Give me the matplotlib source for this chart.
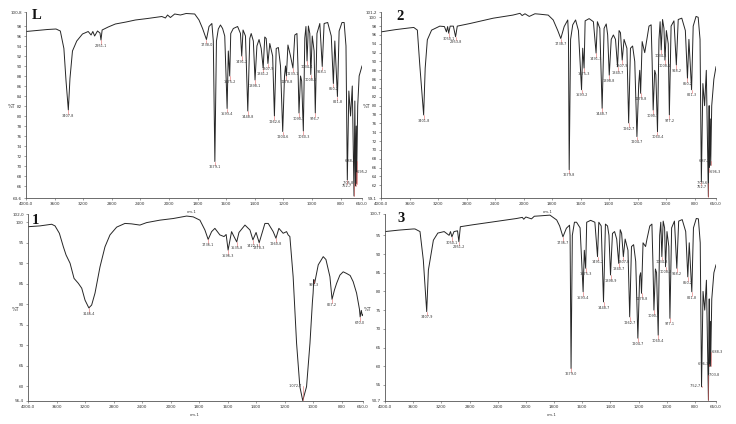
import numpy as np
import matplotlib
matplotlib.use("Agg")
import matplotlib.pyplot as plt

# ---------------- data (wavenumber cm-1, %T) ----------------
spec_L = [(4000, 96.9), (3850, 97.1), (3700, 97.3), (3580, 97.4), (3520, 97.0), (3470, 93.5),
          (3440, 87.0), (3407.8, 81.2), (3385, 87.5), (3350, 93.0), (3290, 95.0), (3210, 96.4),
          (3130, 96.9), (3090, 96.2), (3065, 96.9), (3040, 96.0), (3000, 97.0), (2965, 96.6),
          (2951.1, 95.2), (2935, 97.2), (2850, 97.8), (2750, 98.4), (2600, 98.8), (2470, 99.2),
          (2300, 99.5), (2100, 99.9), (2050, 99.6), (2020, 100.2), (1990, 99.7), (1960, 100.4),
          (1920, 100.2), (1880, 100.5), (1820, 100.4), (1790, 99.2), (1765, 97.5), (1738.0, 95.3),
          (1720, 97.9), (1700, 98.5), (1690, 95.0), (1679.1, 70.9), (1668, 95.0), (1655, 97.4),
          (1640, 98.2), (1625, 97.5), (1610, 96.0), (1593.4, 81.5), (1585, 93.0), (1575.2, 88.0),
          (1568, 96.5), (1550, 97.5), (1520, 97.9), (1500, 96.5), (1491.2, 92.0), (1482, 97.2),
          (1465, 96.0), (1448.8, 81.0), (1435, 95.5), (1425, 96.5), (1410, 95.0), (1398.1, 87.2),
          (1385, 94.0), (1370, 95.3), (1355, 93.5), (1341.2, 89.6), (1330, 95.8), (1320, 95.5),
          (1307.9, 90.5), (1295, 94.5), (1275, 92.0), (1262.6, 80.0), (1250, 93.5), (1235, 93.7),
          (1220, 90.0), (1204.6, 76.9), (1192, 88.0), (1185, 90.0), (1178.8, 88.0), (1168, 94.2),
          (1150, 92.0), (1133.1, 89.6), (1120, 96.2), (1105, 96.5), (1098, 90.0), (1090.7, 80.6),
          (1080, 88.0), (1072, 87.0), (1060.3, 77.0), (1050, 95.6), (1042, 97.9), (1034.4, 91.0),
          (1025, 98.0), (1015, 96.5), (1008.1, 88.3), (998, 96.0), (985, 93.0), (976.7, 80.6),
          (965, 96.5), (945, 98.5), (928.1, 89.9), (915, 98.5), (890, 98.7), (865, 96.0),
          (850.2, 86.5), (840, 95.0), (821.8, 83.9), (810, 97.0), (790, 98.7), (775, 98.7),
          (762, 94.0), (752.7, 67.2), (742, 85.0), (730, 80.0), (718, 86.0), (705.8, 64.0),
          (700, 83.0), (695.2, 66.0), (690, 78.0), (688.1, 66.5), (680, 82.0), (670, 88.0),
          (660, 89.0), (650, 90.0)]
peaks_L = [3407.8, 2951.1, 1738.0, 1679.1, 1593.4, 1575.2, 1491.2, 1448.8, 1398.1, 1341.2,
           1307.9, 1262.6, 1204.6, 1178.8, 1133.1, 1090.7, 1060.3, 1034.4, 1008.1, 976.7,
           928.1, 850.2, 821.8, 752.7, 705.8, 695.2, 688.1]

spec_2 = [(4000, 96.7), (3800, 97.2), (3600, 97.6), (3540, 97.7), (3490, 97.1), (3455, 89.0),
          (3401.8, 77.9), (3380, 88.5), (3350, 94.9), (3290, 97.1), (3175, 98.0), (3110, 97.9),
          (3082, 96.7), (3065, 97.9), (3050.1, 96.4), (3030, 98.0), (2985, 98.0), (2953.8, 95.6),
          (2930, 98.0), (2750, 98.6), (2425, 99.8), (2150, 100.5), (2050, 100.9), (2020, 100.4),
          (1990, 100.8), (1960, 100.2), (1920, 100.8), (1885, 100.7), (1827, 100.5), (1792, 99.4),
          (1760, 97.0), (1738.7, 95.2), (1715, 97.9), (1690, 99.4), (1685, 96.0), (1679.8, 65.5),
          (1670, 95.0), (1655, 98.3), (1635, 99.4), (1615, 97.0), (1593.2, 83.6), (1585, 93.0),
          (1575.3, 88.5), (1568, 99.2), (1540, 99.7), (1510, 99.0), (1491.3, 91.9), (1482, 99.0),
          (1465, 97.5), (1448.7, 79.4), (1435, 97.5), (1420, 98.5), (1410, 96.0), (1398.8, 86.9),
          (1385, 95.0), (1370, 96.0), (1355, 95.0), (1340.7, 88.8), (1330, 97.0), (1320, 96.5),
          (1307.9, 90.3), (1295, 95.0), (1275, 93.0), (1262.7, 76.1), (1250, 93.0), (1235, 93.5),
          (1220, 90.0), (1204.7, 73.0), (1192, 85.0), (1185, 88.0), (1178.8, 82.8), (1168, 94.5),
          (1150, 92.0), (1140, 94.0), (1120, 98.0), (1105, 98.3), (1098, 90.0), (1090.7, 79.0),
          (1080, 88.0), (1072, 87.0), (1060.4, 74.1), (1050, 95.0), (1042, 99.0), (1034.3, 92.6),
          (1025, 99.5), (1015, 97.5), (1008.1, 90.3), (998, 97.0), (985, 94.0), (977.2, 77.9),
          (965, 98.0), (945, 99.2), (928.2, 89.2), (915, 99.5), (890, 99.8), (865, 97.0),
          (850.2, 86.2), (840, 95.0), (821.3, 83.6), (810, 98.0), (790, 100.2), (775, 100.0),
          (762, 95.0), (752.7, 62.8), (742, 85.0), (730, 80.0), (718, 88.0), (703.6, 59.4),
          (698, 80.0), (696.3, 66.0), (690, 77.0), (687.2, 66.5), (680, 80.0), (665, 86.0),
          (650, 88.8)]
peaks_2 = [3401.8, 3050.1, 2953.8, 1738.7, 1679.8, 1593.2, 1575.3, 1491.3, 1448.7, 1398.8,
           1340.7, 1307.9, 1262.7, 1204.7, 1178.8, 1090.7, 1060.4, 1034.3, 1008.1, 977.2,
           928.2, 850.2, 821.3, 752.7, 703.6, 696.3, 687.2]

spec_1 = [(4000, 98.9), (3832, 99.1), (3668, 99.5), (3621, 99.1), (3560, 97.3), (3504, 94.0),
          (3466, 92.0), (3410, 90.0), (3354, 86.3), (3294, 85.1), (3246, 83.9), (3200, 81.0),
          (3146.4, 79.1), (3107, 79.8), (3060, 82.7), (2990, 89.1), (2920, 94.0), (2850, 96.9),
          (2756, 98.8), (2640, 99.7), (2550, 99.6), (2430, 99.3), (2336, 99.9), (2150, 100.5),
          (1981, 100.9), (1887, 101.5), (1841, 101.3), (1794, 100.5), (1759, 98.1), (1736.1, 95.8),
          (1712, 97.7), (1689, 98.5), (1654, 96.9), (1625, 96.5), (1610, 97.0), (1596.3, 93.2),
          (1572, 97.7), (1555, 96.5), (1535.8, 95.2), (1520, 97.5), (1478, 99.3), (1443, 98.1),
          (1422.3, 95.7), (1400, 97.5), (1378.3, 95.0), (1338, 99.7), (1315, 99.7), (1280, 97.7),
          (1260.8, 96.1), (1240, 98.5), (1210, 97.3), (1186, 97.7), (1175, 96.9), (1163, 96.5),
          (1140, 86.7), (1116, 70.5), (1093, 59.9), (1072.7, 56.5), (1046, 59.9), (1022, 70.5),
          (1005, 80.5), (1000, 82.7), (995.3, 86.0), (990, 85.0), (964, 89.6), (929, 91.6),
          (910, 90.9), (882, 86.7), (867.2, 81.2), (850, 83.5), (835, 85.1), (812, 87.1),
          (789, 87.9), (765, 87.5), (740, 87.0), (719, 85.5), (695, 82.7), (675, 78.8),
          (670.0, 76.9), (662, 78.5), (655, 77.2), (650, 77.5)]
peaks_1 = [3146.4, 1736.1, 1596.3, 1535.8, 1422.3, 1378.3, 1260.8, 1072.7, 995.3, 867.2, 670.0]

spec_3 = [(4000, 96.0), (3800, 96.4), (3600, 96.7), (3574, 96.7), (3503, 96.0), (3456, 88.4),
          (3407.9, 74.6), (3384, 85.7), (3313, 93.7), (3250, 95.6), (3160, 96.0), (3090, 95.0),
          (3070, 96.0), (3050.1, 94.6), (3020, 96.0), (2970, 96.2), (2951.2, 93.3), (2930, 97.3),
          (2760, 97.8), (2463, 98.6), (2131, 99.5), (2050, 99.8), (2030, 99.3), (2000, 99.9),
          (1960, 99.4), (1940, 100.1), (1900, 100.2), (1829, 100.4), (1781, 99.1), (1760, 97.5),
          (1736.7, 94.6), (1712, 96.9), (1690, 97.7), (1686, 95.0), (1679.0, 59.4), (1670, 95.0),
          (1655, 98.5), (1640, 98.5), (1615, 97.0), (1593.4, 79.9), (1585, 91.0), (1575.3, 86.2),
          (1568, 98.5), (1540, 99.0), (1510, 98.5), (1491.2, 89.3), (1482, 98.5), (1465, 97.5),
          (1448.7, 77.2), (1435, 98.0), (1420, 97.5), (1410, 95.0), (1398.9, 84.4), (1385, 95.5),
          (1370, 96.0), (1355, 94.0), (1340.7, 87.5), (1330, 96.5), (1320, 95.5), (1307.8, 89.3),
          (1295, 94.0), (1275, 91.0), (1262.7, 73.2), (1250, 92.0), (1235, 92.5), (1220, 88.0),
          (1204.7, 67.5), (1192, 84.0), (1185, 85.0), (1178.8, 79.5), (1168, 93.0), (1150, 92.0),
          (1140, 94.0), (1120, 97.5), (1105, 98.0), (1098, 88.0), (1090.7, 75.0), (1080, 86.0),
          (1072, 85.0), (1060.4, 68.3), (1050, 95.0), (1042, 98.5), (1034.3, 89.3), (1025, 98.8),
          (1015, 97.0), (1008.2, 86.6), (998, 96.0), (985, 92.0), (977.1, 72.8), (965, 97.0),
          (945, 98.8), (928.2, 86.2), (915, 98.8), (890, 99.2), (865, 96.0), (850.2, 83.9),
          (840, 93.0), (821.8, 79.9), (810, 97.0), (790, 99.5), (775, 99.4), (762, 93.0),
          (752.7, 54.5), (742, 80.0), (730, 75.0), (718, 83.0), (703.8, 50.9), (698, 78.0),
          (696.3, 60.0), (690, 72.0), (688.3, 60.0), (680, 78.0), (665, 85.0), (650, 87.1)]
peaks_3 = [3407.9, 3050.1, 2951.2, 1736.7, 1679.0, 1593.4, 1575.3, 1491.2, 1448.7, 1398.9,
           1340.7, 1307.8, 1262.7, 1204.7, 1178.8, 1090.7, 1060.4, 1034.3, 1008.2, 977.1,
           928.2, 850.2, 821.8, 752.7, 703.8, 696.3, 688.3]

ylim_L, ylim_2, ylim_1, ylim_3 = (63.6, 100.8), (59.1, 101.2), (56.4, 102.0), (50.7, 100.7)
ystep_L, ystep_2, ystep_1, ystep_3 = 2, 2, 5, 5

xticks = [4000, 3600, 3200, 2800, 2400, 2000, 1800, 1600, 1400, 1200, 1000, 800, 650]
xtick_labels = ["4000,0", "3600", "3200", "2800", "2400", "2000", "1800", "1600",
                "1400", "1200", "1000", "800", "650,0"]


# -------- x scale: 2x expansion below 2000 cm-1 --------
def fwd(w):
    w = np.asarray(w, dtype=float)
    return np.where(w >= 2000, w, 2 * w - 2000)


def inv(u):
    u = np.asarray(u, dtype=float)
    return np.where(u >= 2000, u, (u + 2000) / 2)


def fmt(v):
    return f"{v:.1f}".replace(".", ",")


LINE = "#262626"
AXC = "#555555"
TXT = "#333333"
RED = "#e06666"

fig = plt.figure(figsize=(7.36, 4.24), dpi=100)


def panel(rect, spec, peaks, ylim, ystep, letter, letter_xy, ylab_x, cm_x):
    ax = fig.add_axes(rect)
    wn = np.array([p[0] for p in spec], dtype=float)
    t = np.array([p[1] for p in spec], dtype=float)
    ax.plot(wn, t, color=LINE, lw=0.7)
    ax.set_xscale("function", functions=(fwd, inv))
    ax.set_xlim(4000, 650)
    lo, hi = ylim
    ax.set_ylim(lo, hi)

    inner = [v for v in np.arange(np.ceil(lo / ystep) * ystep, hi, ystep)
             if v - lo > 1.0 and hi - v > 1.0]
    yt = [lo] + inner + [hi]
    yl = [fmt(lo)] + [f"{int(v)}" for v in inner] + [fmt(hi)]
    ax.set_yticks(yt)
    ax.set_yticklabels(yl)
    ax.set_xticks(xticks)
    ax.set_xticklabels(xtick_labels)
    ax.minorticks_off()
    ax.tick_params(axis="both", labelsize=3.0, length=1.5, width=0.4, pad=1.5,
                   colors=AXC, labelcolor=TXT)
    for s in ("top", "right"):
        ax.spines[s].set_visible(False)
    for s in ("left", "bottom"):
        ax.spines[s].set_color(AXC)
        ax.spines[s].set_linewidth(0.6)

    rng = hi - lo
    k = 0
    for i, p in enumerate(peaks):
        tp = np.interp(p, wn[::-1], t[::-1])
        ty = tp - 0.02 * rng
        crowded = any(abs(p - q) < 12 for j, q in enumerate(peaks) if j != i)
        if ty < lo + 0.06 * rng or crowded:
            ty = lo + (0.08 + 0.06 * k) * rng
            ha = "right" if k % 2 == 0 else "left"
            k += 1
            ax.plot([p, p], [tp, ty], color=RED, lw=0.4)
            ax.text(p, ty, " " + fmt(p) + " ", fontsize=2.5, color=TXT, ha=ha, va="center")
        else:
            ax.plot([p, p], [tp, ty], color=RED, lw=0.4)
            ax.text(p, ty, fmt(p), fontsize=2.5, color=TXT, ha="center", va="top")

    ax.text(letter_xy[0], letter_xy[1], letter, transform=ax.transAxes,
            fontsize=10.5, fontweight="bold", family="Liberation Serif",
            ha="left", va="top", color="#111111")
    ax.text(ylab_x, 0.49, "%T", transform=ax.transAxes, fontsize=3.5,
            color=TXT, ha="center", va="center")
    ax.text(cm_x, -0.065, "cm-1", transform=ax.transAxes, fontsize=2.8,
            color=TXT, ha="center", va="top")
    return ax


panel([26 / 736, 1 - 198 / 424, 336 / 736, 186 / 424], spec_L, peaks_L, ylim_L, ystep_L,
      "L", (0.016, 1.015), -0.042, 0.494)
panel([381 / 736, 1 - 198 / 424, 335 / 736, 186 / 424], spec_2, peaks_2, ylim_2, ystep_2,
      "2", (0.045, 1.01), -0.042, 0.498)
panel([28 / 736, 1 - 401 / 424, 335 / 736, 187 / 424], spec_1, peaks_1, ylim_1, ystep_1,
      "1", (0.012, 1.0), -0.036, 0.498)
panel([385 / 736, 1 - 401 / 424, 331 / 736, 187 / 424], spec_3, peaks_3, ylim_3, ystep_3,
      "3", (0.039, 1.01), -0.054, 0.505)

fig.savefig("out.png", dpi=100)
